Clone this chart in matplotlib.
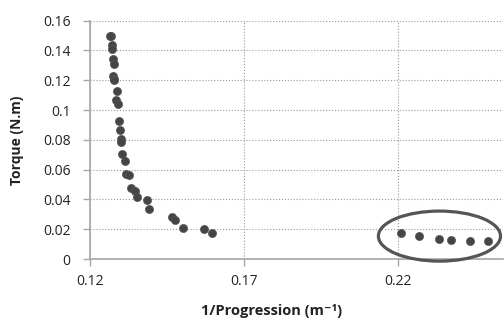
import numpy as np
import matplotlib.pyplot as plt
from matplotlib.patches import Ellipse

# data
inv_progression = [0.1267, 0.1266, 0.1270, 0.1272, 0.1275, 0.1278, 0.1275, 0.1278, 0.1278,
                   0.1287, 0.1285, 0.1290, 0.1295, 0.1297, 0.1300, 0.1302, 0.1305, 0.1314,
                   0.1317, 0.1327, 0.1332, 0.1346, 0.1352, 0.1384, 0.1392, 0.1467, 0.1476,
                   0.1500, 0.1568, 0.1594,
                   0.2209, 0.2266, 0.2331, 0.2372, 0.2431, 0.2490]
torque = [0.1500, 0.1500, 0.1436, 0.1407, 0.1340, 0.1310, 0.1228, 0.1206, 0.1200,
          0.1130, 0.1070, 0.1040, 0.0926, 0.0866, 0.0803, 0.0787, 0.0705, 0.0658,
          0.0570, 0.0564, 0.0479, 0.0456, 0.0418, 0.0396, 0.0338, 0.0284, 0.0262,
          0.0210, 0.0201, 0.0178,
          0.0172, 0.0154, 0.0132, 0.0128, 0.0121, 0.0121]

x_ticks = [0.12, 0.17, 0.22]
y_ticks = [0, 0.02, 0.04, 0.06, 0.08, 0.1, 0.12, 0.14, 0.16]
y_tick_labels = ['0', '0.02', '0.04', '0.06', '0.08', '0.1', '0.12', '0.14', '0.16']

plt.rcParams['font.family'] = ['Open Sans', 'DejaVu Sans']

fig = plt.figure(figsize=(5.04, 3.21), dpi=100)
ax = fig.add_axes([0.1786, 0.193, 0.82, 0.7425])

ax.scatter(inv_progression, torque, s=34, color='#454545', edgecolors='#555555',
           linewidths=0.5, zorder=3)

# ellipse around the high 1/progression group
ax.add_patch(Ellipse((0.2333, 0.0154), 0.0396, 0.0336, fill=False,
                     edgecolor='#555555', linewidth=2.3, zorder=4, clip_on=False))

ax.set_xlim(0.12, 0.254)
ax.set_ylim(0, 0.16)
ax.set_xticks(x_ticks)
ax.set_xticklabels(['0.12', '0.17', '0.22'])
ax.set_yticks(y_ticks)
ax.set_yticklabels(y_tick_labels)

ax.grid(True, linestyle=':', color='#9a9a9a', linewidth=0.8)
ax.set_axisbelow(True)
for s in ['top', 'right']:
    ax.spines[s].set_visible(False)
for s in ['left', 'bottom']:
    ax.spines[s].set_color('#a6a6a6')
    ax.spines[s].set_linewidth(1.2)
ax.tick_params(axis='both', colors='#a6a6a6', length=5, width=1, labelsize=10,
               labelcolor='#222222')
ax.tick_params(axis='x', pad=6)
ax.tick_params(axis='y', pad=9)

ax.set_xlabel('1/Progression (m⁻¹)', fontsize=10.5, fontweight='bold', color='#222222')
ax.xaxis.set_label_coords(0.44, -0.19)
ax.set_ylabel('Torque (N.m)', fontsize=10, fontweight='bold', color='#222222')
ax.yaxis.set_label_coords(-0.16, 0.5)

fig.savefig('out.png', dpi=100, facecolor='white')
